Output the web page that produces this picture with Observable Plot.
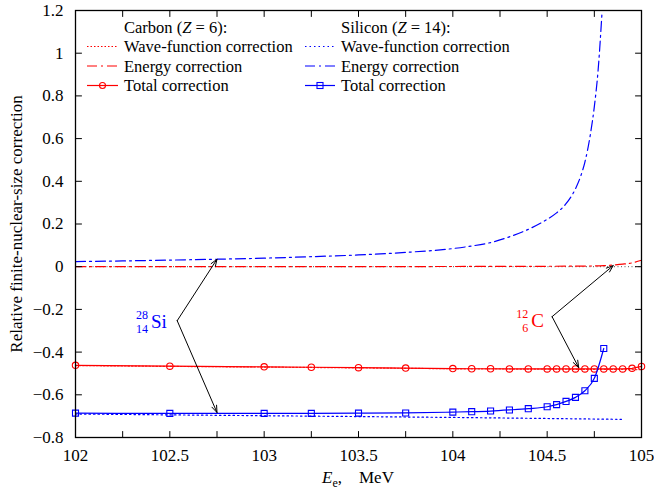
<!DOCTYPE html>
<html><head><meta charset="utf-8">
<script src="https://cdn.jsdelivr.net/npm/d3@7"></script>
<script src="https://cdn.jsdelivr.net/npm/@observablehq/plot@0.6"></script>
<style>
body{margin:0;background:#fff;}
#chart{width:654px;height:495px;}
</style></head><body><div id="chart"></div>
<script>
// ---- Data ----
// Carbon (Z = 6)
const carbonTotalX = [102,102.5,103,103.25,103.5,103.75,104,104.1,104.2,104.3,104.4,104.5,104.55,104.6,104.65,104.7,104.75,104.8,104.85,104.9,104.95,105];
const carbonTotalY = [-0.462,-0.466,-0.469,-0.471,-0.473,-0.475,-0.477,-0.478,-0.478,-0.479,-0.479,-0.479,-0.479,-0.479,-0.479,-0.479,-0.479,-0.479,-0.479,-0.479,-0.476,-0.467];
const carbonWaveX = [102,102.5,103,103.5,104,104.5,105];
const carbonWaveY = [-0.463,-0.467,-0.470,-0.474,-0.478,-0.480,-0.482];
const carbonEnergyX = [102,103,104,104.5,104.7,104.8,104.85,104.9,104.95,105];
const carbonEnergyY = [0.000,0.000,0.001,0.002,0.003,0.005,0.008,0.012,0.018,0.030];
// Silicon (Z = 14)
const siliconTotalX = [102,102.5,103,103.25,103.5,103.75,104,104.1,104.2,104.3,104.4,104.5,104.55,104.6,104.65,104.7,104.75,104.8];
const siliconTotalY = [-0.686,-0.687,-0.687,-0.687,-0.686,-0.685,-0.681,-0.679,-0.676,-0.671,-0.665,-0.656,-0.646,-0.631,-0.612,-0.581,-0.523,-0.383];
const siliconWaveX = [102,102.5,103,103.5,104,104.5,104.9];
const siliconWaveY = [-0.690,-0.694,-0.698,-0.702,-0.706,-0.711,-0.715];
const siliconEnergyX = [102,102.25,102.5,102.75,103,103.25,103.5,103.75,104,104.1,104.2,104.3,104.4,104.5,104.55,104.6,104.65,104.68,104.7,104.73,104.75,104.77,104.79];
const siliconEnergyY = [0.024,0.027,0.031,0.035,0.040,0.047,0.055,0.067,0.085,0.097,0.113,0.140,0.175,0.222,0.252,0.295,0.365,0.430,0.490,0.625,0.750,0.920,1.180];

// Axis ticks
const xLabelTicks = [102,102.5,103,103.5,104,104.5,105];
const xMinorTicks = [102,102.25,102.5,102.75,103,103.25,103.5,103.75,104,104.25,104.5,104.75,105];
const yTicks = [-0.8,-0.6,-0.4,-0.2,0,0.2,0.4,0.6,0.8,1,1.2];

// Annotations
const nuclideSymbol = ["Si","C"];
const nuclideMass = ["28","12"];
const nuclideCharge = ["14","6"];
const nuclideX = [102.40, 104.415];
const nuclideY = [-0.258, -0.255];
const nuclideColor = ["#0000ff","#ff0000"];
const arrowFromX = [102.539,102.539,104.526,104.526];
const arrowFromY = [-0.253,-0.253,-0.234,-0.234];
const arrowToX = [102.75,102.75,104.85,104.667];
const arrowToY = [0.035,-0.683,0.005,-0.472];

// Legend
const legendHeaders = ["Carbon", "Silicon"];
const legendZ = ["6","14"];
const legendLabels = ["Wave-function correction","Energy correction","Total correction"];

const RED = "#ff0000", BLUE = "#0000ff";
const DOT_R = "1.5,2", DOT_B = "1.5,3", DASHDOT = "10,4,2,4";

const tbl = (xs, ys) => xs.map((x, i) => ({x, y: ys[i]}));
const carbonTotal = tbl(carbonTotalX, carbonTotalY);
const carbonWave = tbl(carbonWaveX, carbonWaveY);
const carbonEnergy = tbl(carbonEnergyX, carbonEnergyY);
const siliconTotal = tbl(siliconTotalX, siliconTotalY);
const siliconWave = tbl(siliconWaveX, siliconWaveY);
const siliconEnergy = tbl(siliconEnergyX, siliconEnergyY);
const nuclides = nuclideSymbol.map((s, i) => ({sym: s, mass: nuclideMass[i], charge: nuclideCharge[i], x: nuclideX[i], y: nuclideY[i], color: nuclideColor[i]}));
const arrows = arrowFromX.map((x, i) => ({x1: x, y1: arrowFromY[i], x2: arrowToX[i], y2: arrowToY[i]}));

const tickShape = {draw(ctx, l) { ctx.moveTo(0, 0); ctx.lineTo(0, -l); }};
const tickOpts = {length: 6, anchor: "start", shape: tickShape, stroke: "black", strokeWidth: 1};
const fmt = d3.format("~g");

const plot = Plot.plot({
  width: 654, height: 495,
  marginLeft: 75, marginRight: 13, marginTop: 10, marginBottom: 58,
  style: {fontFamily: "'Liberation Serif', 'DejaVu Serif', serif", fontSize: "16px", background: "white", color: "black"},
  x: {domain: [102, 105]},
  y: {domain: [-0.8, 1.2]},
  marks: [
    Plot.ruleY([0], {stroke: "#555", strokeDasharray: "1,2.5", strokeWidth: 1}),
    Plot.line(carbonWave, {x: "x", y: "y", stroke: RED, strokeDasharray: DOT_R, strokeWidth: 1.2, strokeOpacity: 0.8}),
    Plot.line(carbonEnergy, {x: "x", y: "y", stroke: RED, strokeDasharray: DASHDOT, strokeWidth: 1.2, curve: "monotone-x"}),
    Plot.line(siliconWave, {x: "x", y: "y", stroke: BLUE, strokeDasharray: DOT_B, strokeWidth: 1.2}),
    Plot.line(siliconEnergy, {x: "x", y: "y", stroke: BLUE, strokeDasharray: DASHDOT, strokeWidth: 1.2, curve: "monotone-x"}),
    Plot.line(carbonTotal, {x: "x", y: "y", stroke: RED, strokeWidth: 1.2}),
    Plot.dot(carbonTotal, {x: "x", y: "y", r: 3.2, stroke: RED, fill: "none", strokeWidth: 1.1}),
    Plot.line(siliconTotal, {x: "x", y: "y", stroke: BLUE, strokeWidth: 1.2, curve: "monotone-x"}),
    Plot.dot(siliconTotal, {x: "x", y: "y", symbol: "square", r: 3.4, stroke: BLUE, fill: "none", strokeWidth: 1.1}),
    Plot.arrow(arrows, {x1: "x1", y1: "y1", x2: "x2", y2: "y2", stroke: "black", strokeWidth: 1, headLength: 11, headAngle: 40}),
    Plot.text(nuclides, {x: "x", y: "y", text: "sym", fill: "color", textAnchor: "start", fontSize: 19}),
    Plot.text(nuclides, {x: "x", y: "y", text: "mass", fill: "color", textAnchor: "end", fontSize: 12, dy: -7, dx: -3}),
    Plot.text(nuclides, {x: "x", y: "y", text: "charge", fill: "color", textAnchor: "end", fontSize: 12, dy: 7.5, dx: -3}),
    Plot.vector(xMinorTicks, {...tickOpts, x: d => d, frameAnchor: "bottom", rotate: 0}),
    Plot.vector(xMinorTicks, {...tickOpts, x: d => d, frameAnchor: "top", rotate: 180}),
    Plot.vector(yTicks, {...tickOpts, y: d => d, frameAnchor: "left", rotate: 90}),
    Plot.vector(yTicks, {...tickOpts, y: d => d, frameAnchor: "right", rotate: -90}),
    Plot.axisX({ticks: xLabelTicks, tickSize: 0, tickPadding: 11, tickFormat: fmt, label: null, fontSize: 17}),
    Plot.axisY({ticks: yTicks, tickSize: 0, tickPadding: 12, tickFormat: fmt, label: "Relative finite-nuclear-size correction", labelAnchor: "center", labelArrow: "none", labelOffset: 66, fontSize: 17}),
    Plot.frame({stroke: "black", strokeWidth: 1.3})
  ]
});

const svg = d3.select(plot);
// x-axis title
const xt = svg.append("text").attr("x", 358).attr("y", 483).attr("text-anchor", "middle").attr("font-size", 17);
xt.append("tspan").attr("font-style", "italic").text("E");
xt.append("tspan").attr("font-size", 12).attr("dy", 4).text("e");
xt.append("tspan").attr("dy", -4).text(",\u2003MeV");

// legend
const lg = svg.append("g").attr("font-size", 16.5).attr("text-anchor", "start");
const cols = [{x1: 87, x2: 118, tx: 124, color: RED, dot: DOT_R, sym: "circle"}, {x1: 305, x2: 335, tx: 341, color: BLUE, dot: DOT_B, sym: "square"}];
const rowY = [27, 46.5, 66, 85.5];
cols.forEach((c, ci) => {
  const h = lg.append("text").attr("x", c.tx).attr("y", rowY[0] + 5.5).attr("text-anchor", "start");
  h.append("tspan").text(legendHeaders[ci] + " (");
  h.append("tspan").attr("font-style", "italic").text("Z");
  h.append("tspan").text(" = " + legendZ[ci] + "):");
  const dashes = [c.dot, DASHDOT, null];
  legendLabels.forEach((lab, li) => {
    const y = rowY[li + 1];
    const ln = lg.append("line").attr("x1", c.x1).attr("x2", c.x2).attr("y1", y).attr("y2", y)
      .attr("stroke", c.color).attr("stroke-width", 1.2);
    if (dashes[li]) ln.attr("stroke-dasharray", dashes[li]);
    if (li === 2) {
      const mx = (c.x1 + c.x2) / 2;
      if (c.sym === "circle") lg.append("circle").attr("cx", mx).attr("cy", y).attr("r", 3).attr("fill", "none").attr("stroke", c.color).attr("stroke-width", 1.1);
      else lg.append("rect").attr("x", mx - 3).attr("y", y - 3).attr("width", 6).attr("height", 6).attr("fill", "none").attr("stroke", c.color).attr("stroke-width", 1.1);
    }
    lg.append("text").attr("x", c.tx).attr("y", y + 5.5).attr("text-anchor", "start").text(lab);
  });
});

document.getElementById("chart").appendChild(plot);
</script></body></html>
